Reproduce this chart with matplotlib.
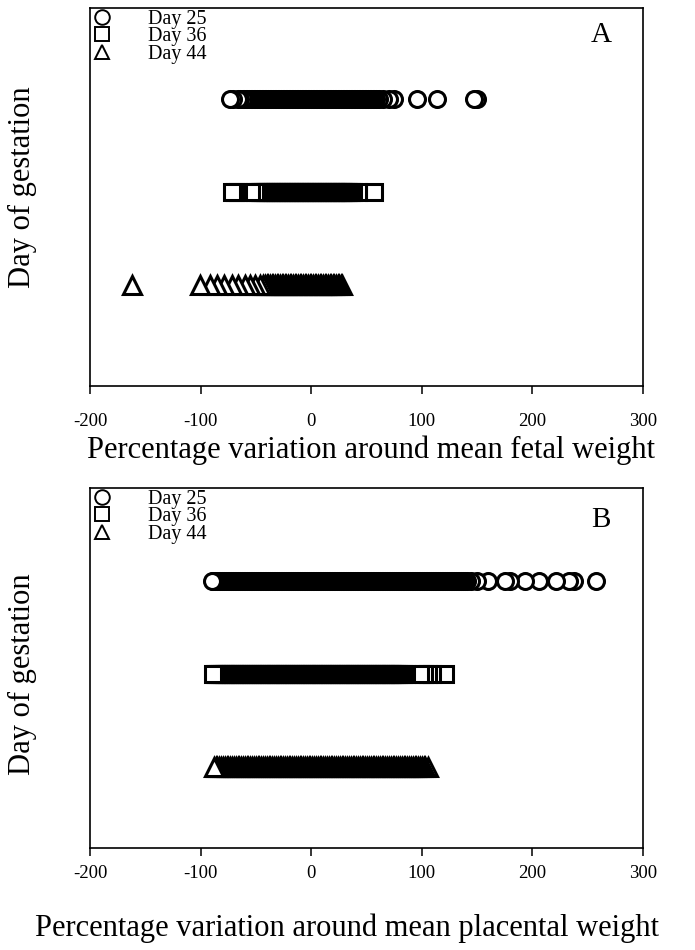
import matplotlib.pyplot as plt
from matplotlib.lines import Line2D

plt.rcParams['font.family'] = ['Liberation Serif', 'DejaVu Serif']
plt.rcParams['axes.unicode_minus'] = False

# Panel A - percentage variation around mean fetal weight
a_day25 = [-73, -71, -66, -64,
           -62.0, -60.6, -59.1, -57.9, -56.2, -54.8, -53.5, -51.9, -50.4, -49.2, -47.6, -46.1,
           -44.9, -43.2, -41.8, -40.5, -38.9, -37.6, -36.0, -34.7, -33.1, -31.8, -30.2, -28.9,
           -27.3, -25.8, -24.6, -23.0, -21.5, -20.3, -18.7, -17.2, -16.0, -14.4, -12.9, -11.6,
           -10.1, -8.7, -7.3, -5.8, -4.4, -3.0, -1.5, -0.2, 1.3, 2.7, 4.1, 5.6, 7.0, 8.5, 9.8,
           11.3, 12.7, 14.2, 15.6, 17.1, 18.4, 19.9, 21.3, 22.8, 24.2, 25.6, 27.1, 28.5, 30.0,
           31.3, 32.8, 34.2, 35.7, 37.1, 38.5, 40.0, 41.4, 42.9, 44.2, 45.7, 47.1, 48.6, 50.0,
           51.4, 52.9, 54.3, 55.8, 57.2, 58.5,
           61.5, 65, 70.5, 75, 95.5, 113.5, 147, 150]
a_day36 = [-71.4, -69, -66, -54, -51,
           -48.0, -46.5, -45.1, -43.4, -42.0, -40.6, -39.0, -37.5, -36.1, -34.6, -33.0, -31.7,
           -30.1, -28.6, -27.2, -25.6, -24.1, -22.7, -21.2, -19.6, -18.2, -16.7, -15.2, -13.8,
           -12.2, -10.8, -9.3, -7.8, -6.3, -4.9, -3.4, -1.8, -0.4, 1.1, 2.6, 4.1, 5.5, 7.0, 8.6,
           10.0, 11.5, 13.0, 14.4, 16.0, 17.4, 18.9, 20.4, 21.8, 23.4, 24.8, 26.3, 27.8, 29.2,
           30.8, 32.2, 33.7, 35.1, 36.3,
           37.7, 42.3, 56.8]
a_day44 = [-162, -100.5, -91.5, -85.4, -78.8, -72, -66, -59.9, -55.3, -50.8, -46.3, -43.3,
           -41.8, -40.3, -38.9, -37.4, -35.8, -34.4, -32.9, -31.3, -29.9, -28.4, -26.8, -25.4,
           -23.9, -22.3, -20.9, -19.4, -17.8, -16.4, -14.9, -13.3, -11.9, -10.4, -8.8, -7.4,
           -5.9, -4.3, -2.9, -1.4, 0.2, 1.6, 3.1, 4.7, 6.1, 7.6, 9.2, 10.6, 12.1, 13.7, 15.1,
           16.6, 18.2, 19.6, 21.1, 22.7, 24.1, 25.6, 27.0, 28.2]

# Panel B - percentage variation around mean placental weight
b_day25 = [-90.0, -88.4, -86.9, -85.1, -83.6, -82.0, -80.3, -78.8, -77.2, -75.5, -74.0, -72.4,
           -70.7, -69.2, -67.6, -65.9, -64.4, -62.8, -61.1, -59.6, -58.0, -56.3, -54.8, -53.2,
           -51.5, -50.0, -48.4, -46.7, -45.2, -43.6, -41.9, -40.4, -38.8, -37.1, -35.6, -34.0,
           -32.3, -30.8, -29.2, -27.5, -26.0, -24.4, -22.7, -21.2, -19.6, -17.9, -16.4, -14.8,
           -13.1, -11.6, -10.0, -8.3, -6.8, -5.2, -3.5, -2.0, -0.4, 1.3, 2.8, 4.4, 6.1, 7.6,
           9.2, 10.9, 12.4, 14.0, 15.7, 17.2, 18.8, 20.5, 22.0, 23.6, 25.3, 26.8, 28.4, 30.1,
           31.6, 33.2, 34.9, 36.4, 38.0, 39.7, 41.2, 42.8, 44.5, 46.0, 47.6, 49.3, 50.8, 52.4,
           54.1, 55.6, 57.2, 58.9, 60.4, 62.0, 63.7, 65.2, 66.8, 68.5, 70.0, 71.6, 73.3, 74.8,
           76.4, 78.1, 79.6, 81.2, 82.9, 84.4, 86.0, 87.7, 89.2, 90.8, 92.5, 94.0, 95.6, 97.3,
           98.8, 100.4, 102.1, 103.6, 105.2, 106.9, 108.4, 110.0, 111.7, 113.2, 114.8, 116.5,
           118.0, 119.6, 121.3, 122.8, 124.4, 126.1, 127.6, 129.2, 130.9, 132.4, 134.0, 135.7,
           137.2, 138.8, 140.5,
           144.5, 150, 160, 175, 180, 193, 206, 221, 233, 238, 258]
b_day36 = [-89.0, -87.3, -85.8, -84.0, -82.5, -80.8, -79.2, -77.5, -76.0, -74.3, -72.7, -71.0,
           -69.5, -67.8, -66.2, -64.5, -63.0, -61.3, -59.7, -58.0, -56.5, -54.8, -53.2, -51.5,
           -50.0, -48.3, -46.7, -45.0, -43.5, -41.8, -40.2, -38.5, -37.0, -35.3, -33.7, -32.0,
           -30.5, -28.8, -27.2, -25.5, -24.0, -22.3, -20.7, -19.0, -17.5, -15.8, -14.2, -12.5,
           -11.0, -9.3, -7.7, -6.0, -4.5, -2.8, -1.2, 0.5, 2.0, 3.7, 5.3, 7.0, 8.5, 10.2, 11.8,
           13.5, 15.0, 16.7, 18.3, 20.0, 21.5, 23.2, 24.8, 26.5, 28.0, 29.7, 31.3, 33.0, 34.5,
           36.2, 37.8, 39.5, 41.0, 42.7, 44.3, 46.0, 47.5, 49.2, 50.8, 52.5, 54.0, 55.7, 57.3,
           59.0, 60.5, 62.2, 63.8, 65.5, 67.0, 68.7, 70.3, 72.0, 73.5, 75.2, 76.8, 78.5, 80.0,
           81.7, 83.5,
           85.7, 98.4, 102, 106, 109, 121]
b_day44 = [-88.0, -86.4, -84.7, -83.1, -81.4, -79.8, -78.1, -76.5, -74.8, -73.2, -71.5, -69.9,
           -68.2, -66.6, -64.9, -63.3, -61.6, -60.0, -58.3, -56.7, -55.0, -53.4, -51.7, -50.1,
           -48.4, -46.8, -45.1, -43.5, -41.8, -40.2, -38.5, -36.9, -35.2, -33.6, -31.9, -30.3,
           -28.6, -27.0, -25.3, -23.7, -22.0, -20.4, -18.7, -17.1, -15.4, -13.8, -12.1, -10.5,
           -8.8, -7.2, -5.5, -3.9, -2.2, -0.6, 1.1, 2.7, 4.4, 6.0, 7.7, 9.3, 11.0, 12.6, 14.3,
           15.9, 17.6, 19.2, 20.9, 22.5, 24.2, 25.8, 27.5, 29.1, 30.8, 32.4, 34.1, 35.7, 37.4,
           39.0, 40.7, 42.3, 44.0, 45.6, 47.3, 48.9, 50.6, 52.2, 53.9, 55.5, 57.2, 58.8, 60.5,
           62.1, 63.8, 65.4, 67.1, 68.7, 70.4, 72.0, 73.7, 75.3, 77.0, 78.6, 80.3, 81.9, 83.6,
           85.2, 86.9, 88.5, 90.2, 91.8, 93.5, 95.1, 96.8, 98.4, 100.1, 101.7, 103.4, 106.0]

labels = ['Day 25', 'Day 36', 'Day 44']
markers = ['o', 's', '^']
sizes = [11.5, 11, 12.5]
rows = [3, 2, 1]
x_ticks = [-200, -100, 0, 100, 200, 300]


def panel(ax, series, letter, xlabel, ylim, tick_pad, letter_y, xlab_pos, ylab_y):
    for vals, m, ms, r in zip(series, markers, sizes, rows):
        # draw from right to left so the left-most marker sits on top
        xs = sorted(vals, reverse=True)
        ax.plot(xs, [r] * len(xs), linestyle='none', marker=m, markersize=ms,
                markerfacecolor='white', markeredgecolor='black', markeredgewidth=2.2)
    ax.set_xlim(-200, 300)
    ax.set_ylim(*ylim)
    ax.set_xticks(x_ticks)
    ax.set_yticks([])
    ax.tick_params(axis='x', direction='out', length=6, width=1.1, labelsize=13.5, pad=tick_pad)
    for s in ax.spines.values():
        s.set_linewidth(1.2)
    ax.set_xlabel(xlabel, fontsize=22, va='center')
    ax.xaxis.set_label_coords(*xlab_pos)
    ax.set_ylabel('Day of gestation', fontsize=22, va='center')
    ax.yaxis.set_label_coords(-0.123, ylab_y)
    # legend keys with a thinner outline than the data markers
    keys = [Line2D([], [], linestyle='none', marker=m, markersize=10.5,
                   markerfacecolor='white', markeredgecolor='black', markeredgewidth=1.4)
            for m in markers]
    ax.legend(keys, labels, loc='upper left', bbox_to_anchor=(0.009, 0.995),
              frameon=False, fontsize=14.5, handlelength=0.7,
              handletextpad=1.94, labelspacing=-0.08, borderaxespad=0.0, borderpad=0.0)
    ax.text(0.924, letter_y, letter, transform=ax.transAxes, fontsize=21,
            ha='center', va='center')


fig = plt.figure(figsize=(6.95, 9.5), dpi=100)
ax_a = fig.add_axes([0.1295, 0.5937, 0.7955, 0.3979])
ax_b = fig.add_axes([0.1295, 0.1074, 0.7955, 0.3789])

panel(ax_a, [a_day25, a_day36, a_day44], 'A',
      'Percentage variation around mean fetal weight', (-0.08, 3.98),
      13.5, 0.929, (0.508, -0.169), 0.526)
panel(ax_b, [b_day25, b_day36, b_day44], 'B',
      'Percentage variation around mean placental weight', (0.13, 4.0),
      6.5, 0.911, (0.465, -0.222), 0.483)

fig.savefig('out.png', dpi=100)
